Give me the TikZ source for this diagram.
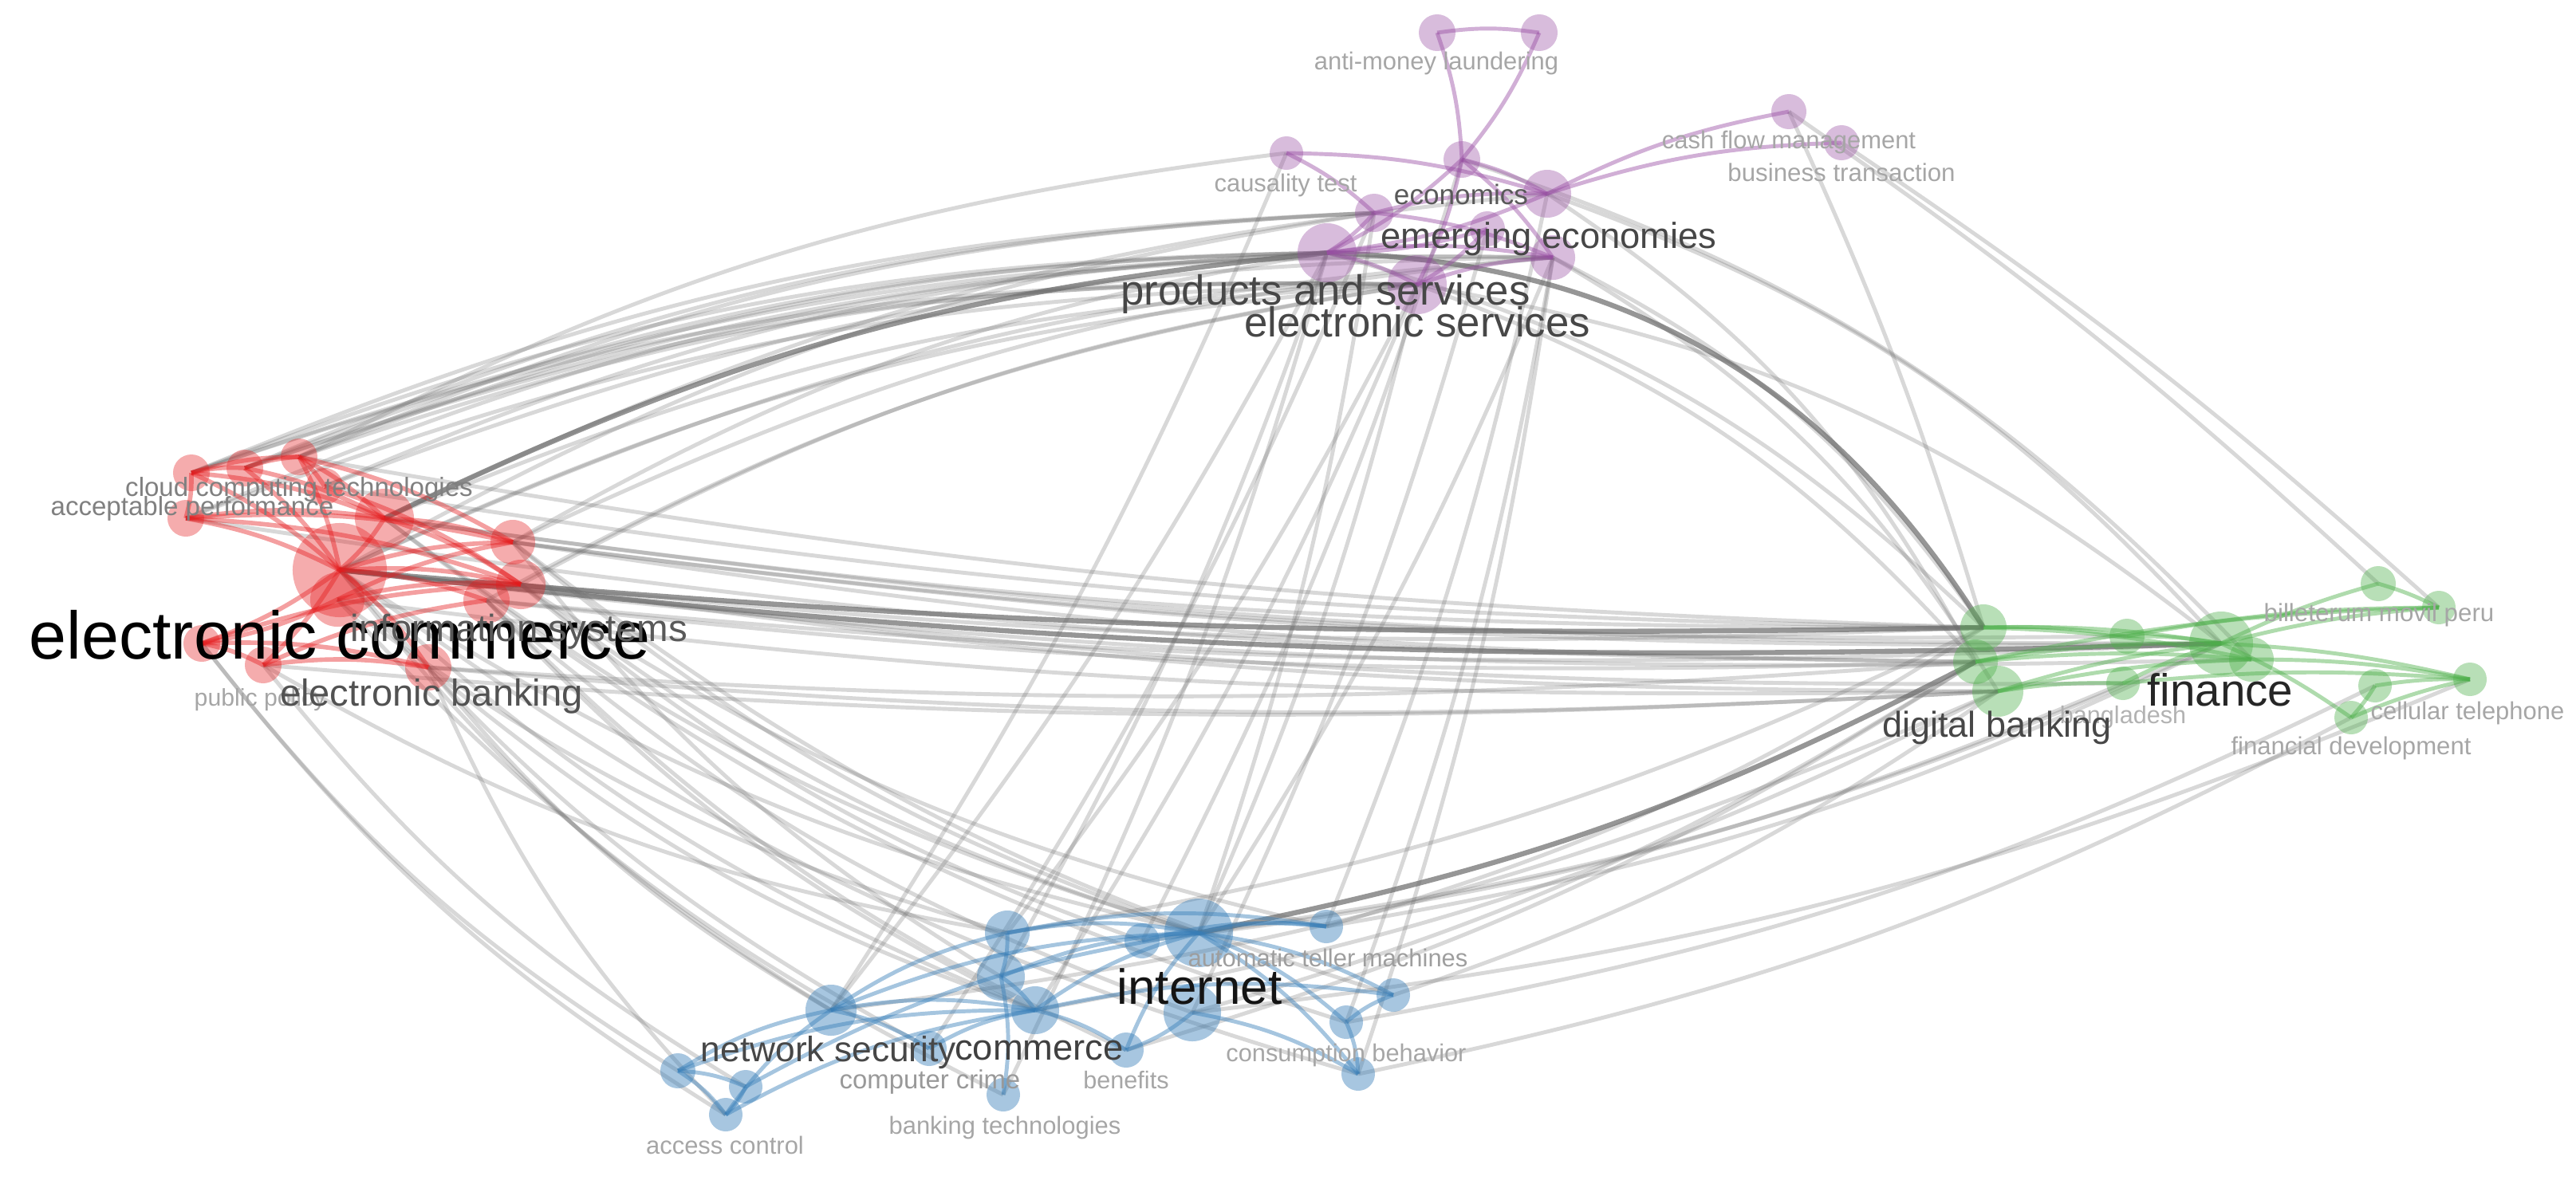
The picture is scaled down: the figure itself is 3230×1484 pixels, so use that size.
\documentclass[tikz,border=0pt]{standalone}
\usepackage{fontspec}
\setmainfont{Liberation Sans}
\usetikzlibrary{backgrounds}
\definecolor{clusterred}{RGB}{228,26,28}
\definecolor{clusterblue}{RGB}{55,126,184}
\definecolor{clustergreen}{RGB}{77,175,74}
\definecolor{clusterpurple}{RGB}{152,78,163}
\definecolor{linkgray}{RGB}{105,105,105}
\tikzset{
  item/.style={circle, inner sep=0pt, draw=none},
  reditem/.style={item, fill=clusterred, fill opacity=.36},
  purpleitem/.style={item, fill=clusterpurple, fill opacity=.38},
  greenitem/.style={item, fill=clustergreen, fill opacity=.40},
  blueitem/.style={item, fill=clusterblue, fill opacity=.44},
  lnk/.style={draw=linkgray, draw opacity=.26, line width=1.4pt},
  lnkdark/.style={draw=linkgray, draw opacity=.7, line width=1.8pt},
  redlnk/.style={draw=clusterred, draw opacity=.42, line width=1.6pt},
  purplelnk/.style={draw=clusterpurple, draw opacity=.45, line width=1.4pt},
  greenlnk/.style={draw=clustergreen, draw opacity=.45, line width=1.4pt},
  bluelnk/.style={draw=clusterblue, draw opacity=.45, line width=1.4pt},
  lbl/.style={inner sep=0pt, anchor=mid},
  fs/.style={font=\fontsize{#1}{#1}\selectfont},
}
\begin{document}
\begin{tikzpicture}[x=0.01cm, y=-0.01cm]
\useasboundingbox (0,0) rectangle (3230,1484);
\clip (0,0) rectangle (3230,1484);

\node[reditem, minimum size=.46cm] (rA) at (240,593) {};
\node[reditem, minimum size=.46cm] (rB) at (307,587) {};
\node[reditem, minimum size=.46cm] (rC) at (375,573) {};
\node[reditem, minimum size=.46cm] (cloudc) at (407,610) {};
\node[reditem, minimum size=.46cm] (accperf) at (233,650) {};
\node[reditem, minimum size=.74cm] (rF) at (482,650) {};
\node[reditem, minimum size=1.18cm] (ecom) at (426,715) {};
\node[reditem, minimum size=.68cm] (rH) at (423,752) {};
\node[reditem, minimum size=.56cm] (infsys) at (643,680) {};
\node[reditem, minimum size=.62cm] (rJ) at (653,733) {};
\node[reditem, minimum size=.58cm] (rK) at (610,753) {};
\node[reditem, minimum size=.46cm] (pubpol) at (253,807) {};
\node[reditem, minimum size=.46cm] (rM) at (330,834) {};
\node[reditem, minimum size=.58cm] (ebank) at (537,837) {};

\node[purpleitem, minimum size=.46cm] (amlA) at (1802,41) {};
\node[purpleitem, minimum size=.46cm] (amlB) at (1930,41) {};
\node[purpleitem, minimum size=.42cm] (caus) at (1613,192) {};
\node[purpleitem, minimum size=.46cm] (econ) at (1833,200) {};
\node[purpleitem, minimum size=.60cm] (pC) at (1940,243) {};
\node[purpleitem, minimum size=.48cm] (pD) at (1723,267) {};
\node[purpleitem, minimum size=.44cm] (pE) at (1865,287) {};
\node[purpleitem, minimum size=.74cm] (prod) at (1664,317) {};
\node[purpleitem, minimum size=.74cm] (eserv) at (1777,357) {};
\node[purpleitem, minimum size=.56cm] (emerg) at (1947,323) {};
\node[purpleitem, minimum size=.44cm] (cashf) at (2243,140) {};
\node[purpleitem, minimum size=.44cm] (bustr) at (2309,179) {};

\node[greenitem, minimum size=.58cm] (dbankA) at (2487,787) {};
\node[greenitem, minimum size=.56cm] (dbankB) at (2477,830) {};
\node[greenitem, minimum size=.64cm] (dbank) at (2505,867) {};
\node[greenitem, minimum size=.44cm] (bangA) at (2667,798) {};
\node[greenitem, minimum size=.42cm] (bangl) at (2662,857) {};
\node[greenitem, minimum size=.80cm] (fin) at (2785,807) {};
\node[greenitem, minimum size=.56cm] (gG) at (2823,827) {};
\node[greenitem, minimum size=.44cm] (gH) at (2982,732) {};
\node[greenitem, minimum size=.42cm] (billet) at (3058,762) {};
\node[greenitem, minimum size=.42cm] (cellt) at (3097,852) {};
\node[greenitem, minimum size=.42cm] (gK) at (2978,860) {};
\node[greenitem, minimum size=.42cm] (findev) at (2948,900) {};

\node[blueitem, minimum size=.64cm] (netsec) at (1042,1267) {};
\node[blueitem, minimum size=.44cm] (accA) at (850,1343) {};
\node[blueitem, minimum size=.42cm] (accB) at (935,1363) {};
\node[blueitem, minimum size=.42cm] (accc) at (910,1398) {};
\node[blueitem, minimum size=.44cm] (compcr) at (1165,1315) {};
\node[blueitem, minimum size=.56cm] (bF) at (1263,1170) {};
\node[blueitem, minimum size=.60cm] (bG) at (1255,1225) {};
\node[blueitem, minimum size=.60cm] (comm) at (1298,1267) {};
\node[blueitem, minimum size=.42cm] (banktech) at (1258,1373) {};
\node[blueitem, minimum size=.86cm] (inet) at (1503,1170) {};
\node[blueitem, minimum size=.72cm] (inetB) at (1495,1270) {};
\node[blueitem, minimum size=.44cm] (bL) at (1432,1180) {};
\node[blueitem, minimum size=.44cm] (benef) at (1412,1317) {};
\node[blueitem, minimum size=.42cm] (atm) at (1663,1162) {};
\node[blueitem, minimum size=.42cm] (bO) at (1747,1248) {};
\node[blueitem, minimum size=.42cm] (bP) at (1688,1282) {};
\node[blueitem, minimum size=.42cm] (consb) at (1703,1347) {};

\begin{scope}[on background layer]
\foreach \a/\b in {rA/prod, rB/prod, rC/prod, rC/pD, cloudc/prod, rB/eserv, rA/eserv, rF/eserv, ecom/eserv, ecom/emerg, rF/pC, infsys/prod, rJ/eserv, ecom/pD, rC/caus, rB/emerg, rK/eserv, accperf/prod, rA/pD, rA/emerg, rC/eserv, cloudc/emerg, rB/pD, accperf/eserv, infsys/emerg}
  \draw[lnk] (\a.center) to[bend left=10] (\b.center);
\foreach \a/\b in {rF/dbankA, infsys/dbankB, rJ/dbank, rF/fin, rK/dbankB, infsys/fin, rJ/dbankA, rH/dbank, ebank/dbank, ebank/dbankB, cloudc/dbankA, accperf/dbankB, ecom/gG, infsys/bangA, rC/dbankA, rM/dbank, rK/fin, rJ/bangl}
  \draw[lnk] (\a.center) to[bend right=4] (\b.center);
\foreach \a/\b in {ecom/netsec, ecom/inet, ecom/comm, rH/bF, rJ/inet, infsys/bG, rK/inetB, pubpol/accA, rM/accB, ebank/netsec, ebank/comm, rF/inet, ecom/compcr, rJ/atm, rH/banktech, ebank/accc, rK/benef, infsys/bO, rJ/bL, rM/bF, ecom/consb, rF/bP, pubpol/accc, infsys/inet, rK/comm}
  \draw[lnk] (\a.center) to[bend right=10] (\b.center);
\foreach \a/\b in {prod/dbankA, eserv/dbankB, emerg/dbankA, pC/fin, emerg/dbank, econ/gG, eserv/fin, pC/dbankB}
  \draw[lnk] (\a.center) to[bend left=14] (\b.center);
\foreach \a/\b in {cashf/gH, bustr/billet, cashf/dbankA}
  \draw[lnk] (\a.center) to[bend left=4] (\b.center);
\foreach \a/\b in {prod/netsec, eserv/inet, eserv/bF, emerg/inet, pC/atm, pD/compcr, prod/bG, eserv/comm, emerg/bP, caus/netsec, pE/inetB, econ/bL, prod/banktech, emerg/consb, pD/inet}
  \draw[lnk] (\a.center) to[bend left=5] (\b.center);
\foreach \a/\b in {inetB/dbankB, comm/dbank, atm/fin, bO/dbank, consb/findev, bP/gK, netsec/dbank, inet/fin, benef/dbankB, bL/bangl, inetB/cellt, bF/dbankA, atm/dbankA}
  \draw[lnk] (\a.center) to[bend right=8] (\b.center);
\draw[lnkdark] (rF.center) to[bend left=10] (prod.center);
\draw[lnkdark] (ecom.center) to[bend right=3] (dbankA.center);
\draw[lnkdark] (ecom.center) to[bend right=4] (fin.center);
\draw[lnkdark] (prod.center) to[bend left=28] (dbankA.center);
\draw[lnkdark] (inet.center) to[bend right=8] (dbankB.center);

\foreach \a/\b in {rA/rB, rB/rC, rC/cloudc, rA/accperf, rA/rC, rA/ecom, rB/ecom, rC/ecom, accperf/ecom, accperf/rF, rA/rF, rF/ecom, rF/infsys, rF/rJ, ecom/infsys, ecom/rJ, ecom/rK, ecom/pubpol, ecom/rM, ecom/ebank, rH/rJ, rH/infsys, pubpol/rJ, rM/ebank, pubpol/ebank, accperf/infsys, accperf/rJ, rC/rF, cloudc/rJ, rH/pubpol, rB/rF, rC/infsys, rM/rK, pubpol/rM}
  \draw[redlnk] (\a.center) to[bend left=8] (\b.center);
\foreach \a/\b in {amlA/amlB, amlA/econ, amlB/econ, caus/pC, econ/pC, econ/prod, econ/eserv, econ/emerg, pC/cashf, pC/bustr, pC/prod, pD/pC, pD/prod, pD/emerg, prod/emerg, prod/eserv, eserv/emerg, pE/prod, pE/eserv, caus/pD}
  \draw[purplelnk] (\a.center) to[bend left=8] (\b.center);
\foreach \a/\b in {dbankA/fin, dbankB/fin, dbank/fin, dbankA/gG, dbank/bangl, bangA/fin, bangl/fin, fin/gH, fin/billet, fin/cellt, gG/cellt, fin/findev, gK/findev, gK/cellt, gH/billet, dbankB/billet, dbankA/bangA, dbankB/gG, dbank/gG, findev/cellt, bangA/billet, bangl/cellt}
  \draw[greenlnk] (\a.center) to[bend left=5] (\b.center);
\foreach \a/\b in {accA/accB, accA/accc, accB/accc, accA/netsec, accA/comm, accB/inet, accc/netsec, accc/comm, netsec/comm, netsec/inet, netsec/bF, netsec/compcr, compcr/comm, bF/inet, bF/atm, bG/inet, bG/banktech, comm/inet, comm/benef, inet/atm, inet/bO, inet/consb, inet/bP, inetB/benef, inetB/consb, bL/atm, bP/bO, bP/consb, comm/bO, benef/inet, bG/comm, bF/bG}
  \draw[bluelnk] (\a.center) to[bend left=10] (\b.center);
\end{scope}

\node[lbl, fs=8.6, text=black!35, anchor=mid west] (pubpoltxt) at (243,876) {public policy};
\node[lbl, fs=24, text=black] (ecomtxt) at (426,817) {electronic commerce};
\node[lbl, fs=13.5, text=black!65] (infsystxt) at (651,795) {information systems};
\node[lbl, fs=13.4, text=black!68] (ebanktxt) at (541,876) {electronic banking};
\node[lbl, fs=9.4, text=black!50] (cloudtxt) at (375,613) {cloud computing technologies};
\node[lbl, fs=9.4, text=black!50] (accperftxt) at (241,637) {acceptable performance};

\node[lbl, fs=8.8, text=black!35] (amltxt) at (1801,78) {anti-money laundering};
\node[lbl, fs=8.8, text=black!35] (cashftxt) at (2243,177) {cash flow management};
\node[lbl, fs=8.9, text=black!35] (bustrtxt) at (2309,218) {business transaction};
\node[lbl, fs=8.8, text=black!35] (caustxt) at (1612,231) {causality test};
\node[lbl, fs=10, text=black!65] (econtxt) at (1832,247) {economics};
\node[lbl, fs=12.9, text=black!72] (emergtxt) at (1942,302) {emerging economies};
\node[lbl, fs=15, text=black!72] (prodtxt) at (1662,373) {products and services};
\node[lbl, fs=15, text=black!72] (eservtxt) at (1777,413) {electronic services};

\node[lbl, fs=8.7, text=black!30] (bangltxt) at (2662,898) {bangladesh};
\node[lbl, fs=12.8, text=black!72] (dbanktxt) at (2504,915) {digital banking};
\node[lbl, fs=16.1, text=black!85] (fintxt) at (2784,876) {finance};
\node[lbl, fs=8.9, text=black!35] (billettxt) at (2983,770) {billeterum movil peru};
\node[lbl, fs=8.8, text=black!35, anchor=mid west] (cellttxt) at (2972,893) {cellular telephone};
\node[lbl, fs=8.85, text=black!35] (findevtxt) at (2948,937) {financial development};

\node[lbl, fs=12.6, text=black!72] (netsectxt) at (1039,1322) {network security};
\node[lbl, fs=12.9, text=black!75] (commtxt) at (1303,1320) {commerce};
\node[lbl, fs=9.35, text=black!40] (compcrtxt) at (1166,1356) {computer crime};
\node[lbl, fs=8.7, text=black!35] (beneftxt) at (1412,1356) {benefits};
\node[lbl, fs=8.8, text=black!35] (banktechtxt) at (1260,1413) {banking technologies};
\node[lbl, fs=8.8, text=black!35] (accctxt) at (909,1438) {access control};
\node[lbl, fs=17.6, text=black!92] (inettxt) at (1504,1250) {internet};
\node[lbl, fs=8.8, text=black!38] (atmtxt) at (1665,1203) {automatic teller machines};
\node[lbl, fs=8.75, text=black!35] (consbtxt) at (1688,1322) {consumption behavior};
\end{tikzpicture}
\end{document}
